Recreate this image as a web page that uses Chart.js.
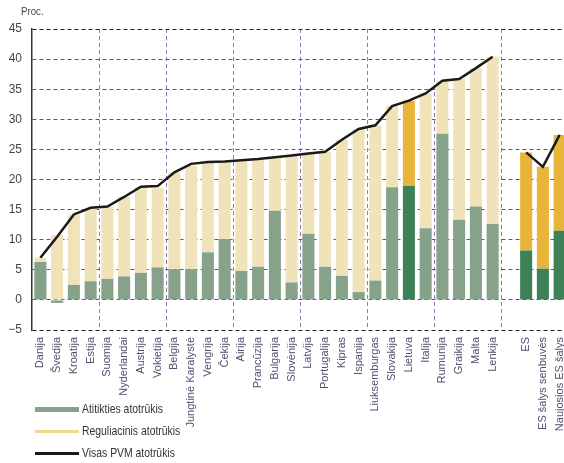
<!DOCTYPE html>
<html>
<head>
<meta charset="utf-8">
<script src="https://cdn.jsdelivr.net/npm/chart.js@4"></script>
<style>
  html, body { margin: 0; padding: 0; background: #fff; overflow: hidden; width: 564px; height: 463px; }
  #wrap { position: relative; width: 580px; height: 463px; }
  #proc { position: absolute; left: 21px; top: 5px; font: 11px "Liberation Sans", Arial, sans-serif; color: #444; transform: scaleX(0.88); transform-origin: left top; }
  .leg { position: absolute; left: 35px; font: 13px "Liberation Sans", Arial, sans-serif; color: #333; white-space: nowrap; }
  .leg span.sw { display: inline-block; width: 44px; vertical-align: middle; margin-right: 3px; }
  .leg span.tx { display: inline-block; transform: scaleX(0.8); transform-origin: left center; }
</style>
</head>
<body>
<div id="wrap">
  <canvas id="grafico" width="580" height="463"></canvas>
  <div id="proc">Proc.</div>
  <div id="legenda"></div>
</div>
<script>
// Šalys (28 šalys, tarpas, ES grupė)
const salys = ['Danija', 'Švedija', 'Kroatija', 'Estija', 'Suomija', 'Nyderlandai', 'Austrija', 'Vokietija',
  'Belgija', 'Jungtinė Karalystė', 'Vengrija', 'Čekija', 'Airija', 'Prancūzija', 'Bulgarija', 'Slovėnija',
  'Latvija', 'Portugalija', 'Kipras', 'Ispanija', 'Liuksemburgas', 'Slovakija', 'Lietuva', 'Italija',
  'Rumunija', 'Graikija', 'Malta', 'Lenkija', '', 'ES', 'ES šalys senbuvės', 'Naujosios ES šalys'];

// Atitikties atotrūkis (proc.)
const atitikties = [6.3, -0.5, 2.5, 3.1, 3.5, 3.9, 4.5, 5.4, 5.1, 5.1, 7.9, 10.1, 4.8, 5.5, 14.8, 2.9,
  11.0, 5.5, 4.0, 1.3, 3.2, 18.7, 18.9, 11.9, 27.6, 13.3, 15.5, 12.6, null, 8.2, 5.2, 11.5];

// Reguliacinis atotrūkis (proc.)
const reguliacinis = [0.7, 10.8, 11.7, 12.2, 12.0, 13.2, 14.3, 13.2, 16.1, 17.2, 15.0, 12.9, 18.4, 17.9, 8.9, 21.1,
  13.3, 19.1, 22.6, 27.1, 25.8, 13.5, 14.2, 22.4, 8.8, 23.4, 23.0, 27.8, null, 16.3, 16.9, 15.9];

// Visas PVM atotrūkis (proc.)
const visas = [7.0, 10.5, 14.2, 15.3, 15.5, 17.1, 18.8, 18.9, 21.2, 22.6, 22.9, 23.0, 23.2, 23.4, 23.7, 24.0,
  24.3, 24.6, 26.6, 28.4, 29.0, 32.2, 33.1, 34.3, 36.4, 36.7, 38.5, 40.4, null, 24.5, 22.1, 27.4];

// Paryškinti stulpeliai (Lietuva ir ES grupė)
const paryskinti = ['Lietuva', 'ES', 'ES šalys senbuvės', 'Naujosios ES šalys'];

const ySkale = [-5, 45, 5]; // min, max, žingsnis

const SPALVOS = {
  zalia: '#86a28a',
  zaliaTamsi: '#3e8058',
  geltona: '#f1e3b9',
  oranzine: '#e9b43a',
  linija: '#1a1a1a'
};

const SRIFTAS = '"Liberation Sans", Arial, sans-serif';

function spalva(paprasta, ryski) {
  return ctx => paryskinti.includes(salys[ctx.dataIndex]) ? ryski : paprasta;
}

new Chart(document.getElementById('grafico'), {
  data: {
    labels: salys,
    datasets: [
      {
        type: 'line', label: 'Visas PVM atotrūkis', data: visas, stack: 'visas',
        borderColor: SPALVOS.linija, borderWidth: 2.5, pointRadius: 0, tension: 0,
        spanGaps: false, order: 0
      },
      {
        type: 'bar', label: 'Atitikties atotrūkis', data: atitikties, stack: 'a',
        backgroundColor: spalva(SPALVOS.zalia, SPALVOS.zaliaTamsi), order: 1,
        barPercentage: 0.72, categoryPercentage: 1
      },
      {
        type: 'bar', label: 'Reguliacinis atotrūkis', data: reguliacinis, stack: 'a',
        backgroundColor: spalva(SPALVOS.geltona, SPALVOS.oranzine), order: 2,
        barPercentage: 0.72, categoryPercentage: 1
      }
    ]
  },
  options: {
    responsive: false,
    animation: false,
    layout: { padding: { top: 29, right: 10, bottom: 13, left: 0 } },
    plugins: { legend: { display: false }, tooltip: { enabled: false } },
    scales: {
      x: {
        stacked: true,
        offset: true,
        afterFit: s => { s.height = 120; },
        border: { display: false, dash: [4, 3] },
        grid: {
          offset: true,
          drawTicks: false,
          color: c => (c.index % 4 === 0 && c.index > 0) ? '#8a7cb5' : 'rgba(0,0,0,0)',
          lineWidth: 1
        },
        ticks: {
          autoSkip: false, maxRotation: 90, minRotation: 90, padding: 7,
          font: { family: SRIFTAS, size: 11 }, color: '#554d70'
        }
      },
      y: {
        stacked: true,
        min: ySkale[0], max: ySkale[1],
        afterFit: s => { s.width = 32; },
        border: { display: true, color: '#333', width: 1.5, dash: [4, 3] },
        grid: {
          drawTicks: false,
          color: c => (c.tick && (c.tick.value === 45 || c.tick.value === -5)) ? '#222' : '#5b5478',
          lineWidth: 1
        },
        ticks: {
          stepSize: ySkale[2], padding: 10,
          font: { family: SRIFTAS, size: 12 }, color: '#444',
          callback: v => v < 0 ? '\u2212' + Math.abs(v) : v
        }
      }
    }
  }
});

// Legenda
const legenda = [
  { tekstas: 'Atitikties atotrūkis', stilius: 'height:5px;background:' + SPALVOS.zalia, y: 401 },
  { tekstas: 'Reguliacinis atotrūkis', stilius: 'height:3px;background:#f0d98c', y: 423 },
  { tekstas: 'Visas PVM atotrūkis', stilius: 'height:3px;background:' + SPALVOS.linija, y: 445 }
];
const leg = document.getElementById('legenda');
legenda.forEach(l => {
  const d = document.createElement('div');
  d.className = 'leg';
  d.style.top = l.y + 'px';
  d.innerHTML = '<span class="sw" style="' + l.stilius + '"></span><span class="tx">' + l.tekstas + '</span>';
  leg.appendChild(d);
});
</script>
</body>
</html>
